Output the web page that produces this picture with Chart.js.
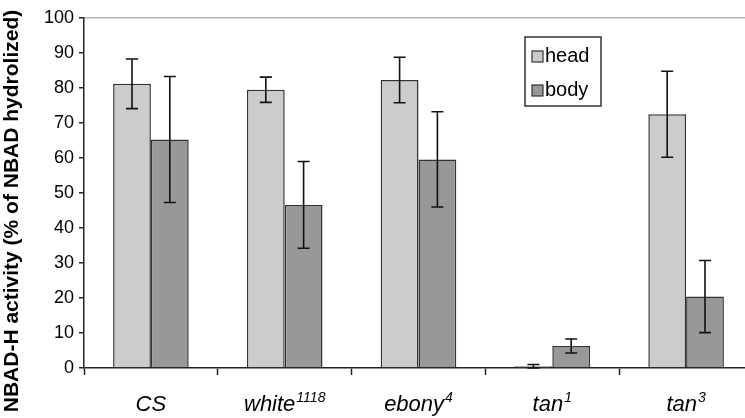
<!DOCTYPE html>
<html>
<head>
<meta charset="utf-8">
<script src="https://cdn.jsdelivr.net/npm/chart.js@4.4.1/dist/chart.umd.min.js"></script>
<style>
html,body{margin:0;padding:0;background:#fff;overflow:hidden;}
#wrap{width:753px;height:418px;}
</style>
</head>
<body>
<div id="wrap"><canvas id="c" width="753" height="418"></canvas></div>
<script>
// ---- data ----
const categories = ['CS', 'white', 'ebony', 'tan', 'tan'];
const superscripts = ['', '1118', '4', '1', '3'];
const headValues = [81.2, 79.5, 82.3, 0.5, 72.5];
const headErrors = [7.1, 3.6, 6.5, 0.5, 12.3];
const bodyValues = [65.3, 46.6, 59.6, 6.3, 20.4];
const bodyErrors = [18.0, 12.4, 13.6, 2.0, 10.3];
const yTicks = [0, 10, 20, 30, 40, 50, 60, 70, 80, 90, 100];
const yTitle = 'NBAD-H activity (% of NBAD hydrolized)';
const seriesNames = ['head', 'body'];

const FONT = '"Liberation Sans", Arial, sans-serif';

const errorBars = {
  id: 'errorBars',
  afterDatasetsDraw(chart) {
    const ctx = chart.ctx;
    const y = chart.scales.y;
    const errs = [headErrors, bodyErrors];
    ctx.save();
    ctx.strokeStyle = '#111';
    ctx.lineWidth = 1.6;
    chart.data.datasets.forEach((ds, i) => {
      const meta = chart.getDatasetMeta(i);
      meta.data.forEach((el, j) => {
        const v = ds.data[j], e = errs[i][j];
        const x = el.x;
        const t = y.getPixelForValue(v + e);
        const b = y.getPixelForValue(Math.max(0, v - e));
        const cw = 6;
        ctx.beginPath();
        ctx.moveTo(x, t); ctx.lineTo(x, b);
        ctx.moveTo(x - cw, t); ctx.lineTo(x + cw, t);
        ctx.moveTo(x - cw, b); ctx.lineTo(x + cw, b);
        ctx.stroke();
      });
    });
    ctx.restore();
  }
};

const extras = {
  id: 'extras',
  afterDraw(chart) {
    const ctx = chart.ctx;
    const xs = chart.scales.x;
    ctx.save();
    // x category labels with superscripts
    ctx.fillStyle = '#000';
    ctx.textBaseline = 'alphabetic';
    categories.forEach((c, i) => {
      const cx = xs.getPixelForValue(i);
      ctx.font = 'italic 22px ' + FONT;
      const w1 = ctx.measureText(c).width;
      ctx.font = 'italic 14px ' + FONT;
      const w2 = superscripts[i] ? ctx.measureText(superscripts[i]).width + 1 : 0;
      const start = cx - (w1 + w2) / 2;
      ctx.font = 'italic 22px ' + FONT;
      ctx.textAlign = 'left';
      ctx.fillText(c, start, 411);
      if (superscripts[i]) {
        ctx.font = 'italic 14px ' + FONT;
        ctx.fillText(superscripts[i], start + w1 + 1, 402);
      }
    });
    // y title
    ctx.save();
    ctx.translate(12, 211);
    ctx.rotate(-Math.PI / 2);
    ctx.font = 'bold 21px ' + FONT;
    ctx.textAlign = 'center';
    ctx.textBaseline = 'middle';
    ctx.fillText(yTitle, 0, 0);
    ctx.restore();
    // legend
    const lx = 525, ly = 37, lw = 76, lh = 69;
    ctx.fillStyle = '#fff';
    ctx.fillRect(lx, ly, lw, lh);
    ctx.strokeStyle = '#333';
    ctx.lineWidth = 1.5;
    ctx.strokeRect(lx, ly, lw, lh);
    const rows = [56, 90];
    chart.data.datasets.forEach((ds, i) => {
      const ry = rows[i];
      ctx.fillStyle = ds.backgroundColor;
      ctx.fillRect(532, ry - 5, 11, 11);
      ctx.strokeStyle = '#333';
      ctx.lineWidth = 1.2;
      ctx.strokeRect(532, ry - 5, 11, 11);
      ctx.fillStyle = '#000';
      ctx.font = '20px ' + FONT;
      ctx.textAlign = 'left';
      ctx.textBaseline = 'middle';
      ctx.fillText(ds.label, 545, ry);
    });
    ctx.restore();
  }
};

new Chart(document.getElementById('c'), {
  type: 'bar',
  data: {
    labels: categories,
    datasets: [
      { label: seriesNames[0], data: headValues, backgroundColor: '#cccccc', borderColor: '#333', borderWidth: 1.5 },
      { label: seriesNames[1], data: bodyValues, backgroundColor: '#989898', borderColor: '#333', borderWidth: 1.5 }
    ]
  },
  options: {
    responsive: false,
    animation: false,
    devicePixelRatio: 1,
    layout: { padding: { top: 18, left: 0, right: 0, bottom: 0 } },
    plugins: { legend: { display: false }, tooltip: { enabled: false } },
    datasets: { bar: { categoryPercentage: 0.565, barPercentage: 1.0 } },
    scales: {
      x: {
        grid: { drawOnChartArea: false, drawTicks: true, tickLength: 7, tickColor: '#222', tickWidth: 1.5 },
        border: { color: '#222', width: 1.5 },
        ticks: { color: 'rgba(0,0,0,0)', font: { size: 12 } },
        afterFit(s) { s.height = 50; }
      },
      y: {
        min: 0, max: 100,
        afterBuildTicks(s) { s.ticks = yTicks.map(v => ({ value: v })); },
        grid: {
          color: c => (c.tick && c.tick.value === 100) ? '#b5b5b5' : 'rgba(0,0,0,0)',
          lineWidth: 1.5,
          tickColor: '#222', tickLength: 5, tickWidth: 1.5, drawTicks: true
        },
        border: { color: '#222', width: 1.5 },
        ticks: { color: '#000', font: { size: 18, family: FONT }, padding: 5 },
        afterFit(s) { s.width = 84; }
      }
    }
  },
  plugins: [errorBars, extras]
});
</script>
</body>
</html>
